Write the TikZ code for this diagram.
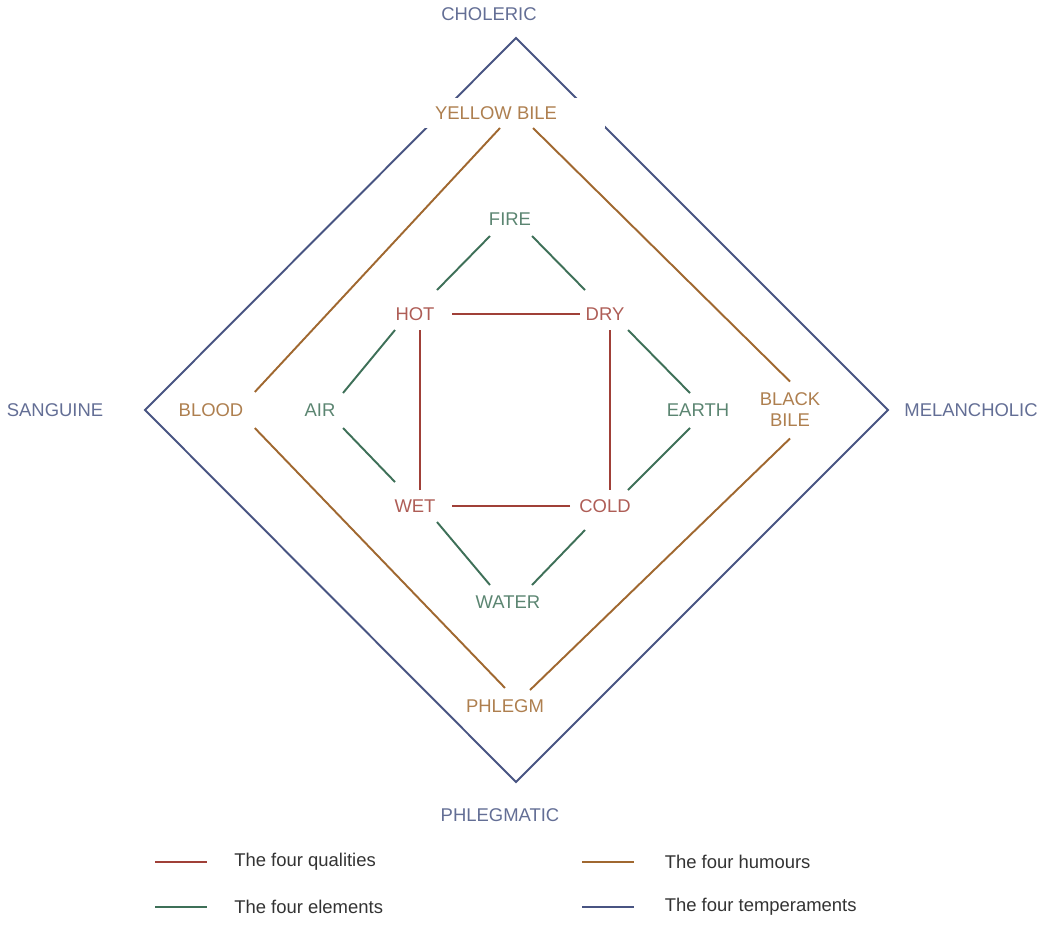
\documentclass[tikz,border=0pt]{standalone}
\usepackage{fontspec}
\setmainfont{Liberation Sans}
\definecolor{tempblue}{RGB}{72,84,130}
\definecolor{humbrown}{RGB}{160,104,48}
\definecolor{elemgreen}{RGB}{62,112,88}
\definecolor{qualred}{RGB}{160,64,56}
\tikzset{
  lbl/.style={font=\fontsize{10.5}{12}\selectfont, inner sep=6pt},
  temp/.style={lbl, text=tempblue!85},
  hum/.style={lbl, text=humbrown!85},
  elem/.style={lbl, text=elemgreen!85},
  qual/.style={lbl, text=qualred!85},
  legend/.style={font=\fontsize{10.5}{12}\selectfont, anchor=west, inner sep=0pt, text=black!80}
}
\begin{document}
\begin{tikzpicture}[x=0.02cm, y=-0.02cm, line width=1.1pt]
        \useasboundingbox (0,0) rectangle (1043,924);

        % Temperaments
        \coordinate (top) at (516,38);
        \coordinate (left) at (145,410);
        \coordinate (right) at (888,410);
        \coordinate (bottom) at (516,782);
        \node[temp] (choleric) at (489,14) {CHOLERIC};
        \node[temp] (sanguine) at (55,410) {SANGUINE};
        \node[temp] (melancholic) at (971,410) {MELANCHOLIC};
        \node[temp] (phlegmatic) at (500,815) {PHLEGMATIC};
        \draw[tempblue] (top) -- (right) -- (bottom) -- (left) -- cycle;

        % Humours
        \fill[white] (425,98) rectangle (605,128);
        \node[hum] (yellow) at (496,113) {YELLOW BILE};
        \node[hum] (blood) at (211,410) {BLOOD};
        \node[hum, align=center] (black) at (790,410) {BLACK\\BILE};
        \node[hum] (phlegm) at (505,706) {PHLEGM};
        \coordinate (yl) at (500,128);
        \coordinate (yr) at (533,128);
        \coordinate (pr) at (530,690);
        \draw[humbrown] (yl) -- (blood.north east);
        \draw[humbrown] (blood.south east) -- (phlegm.north);
        \draw[humbrown] (pr) -- (black.south);
        \draw[humbrown] (black.north) -- (yr);

        % Elements
        \node[elem] (fire) at (510,219) {FIRE};
        \node[elem] (air) at (320,410) {AIR};
        \node[elem] (earth) at (698,410) {EARTH};
        \node[elem] (water) at (508,602) {WATER};

        % Qualities
        \node[qual] (hot) at (415,314) {HOT};
        \node[qual] (dry) at (605,314) {DRY};
        \node[qual] (wet) at (415,506) {WET};
        \node[qual] (cold) at (605,506) {COLD};

        \draw[elemgreen] (490,236) -- (437,290);
        \draw[elemgreen] (395,330) -- (343,393);
        \draw[elemgreen] (343,428) -- (395,482);
        \draw[elemgreen] (437,522) -- (490,585);
        \draw[elemgreen] (532,585) -- (585,530);
        \draw[elemgreen] (628,490) -- (690,428);
        \draw[elemgreen] (690,393) -- (628,330);
        \draw[elemgreen] (585,290) -- (532,236);

        \draw[qualred] (452,314) -- (580,314);
        \draw[qualred] (610,330) -- (610,490);
        \draw[qualred] (570,506) -- (452,506);
        \draw[qualred] (420,490) -- (420,330);

        % Legend
        \coordinate (lq) at (155,862);
        \coordinate (le) at (155,907);
        \coordinate (lh) at (582,862);
        \coordinate (lt) at (582,907);
        \draw[qualred] (lq) -- ++(52,0) node[legend, xshift=15pt] {The four qualities};
        \draw[elemgreen] (le) -- ++(52,0) node[legend, xshift=15pt] {The four elements};
        \draw[humbrown] (lh) -- ++(52,0) node[legend, xshift=17pt] {The four humours};
        \draw[tempblue] (lt) -- ++(52,0) node[legend, xshift=17pt] {The four temperaments};
    \end{tikzpicture}
\end{document}
